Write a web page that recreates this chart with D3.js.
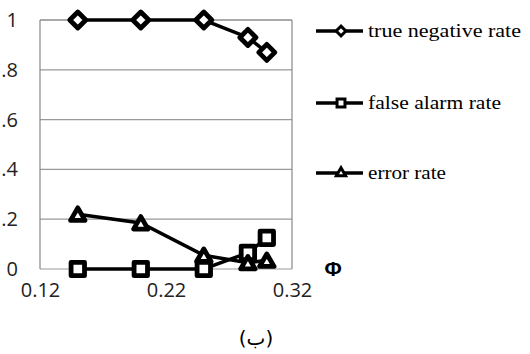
<!DOCTYPE html>
<html lang="en">
<head>
<meta charset="UTF-8">
<title>rates vs phi</title>
<script src="https://d3js.org/d3.v7.min.js"></script>
<style>
    body { margin: 0; background: #fff; }
    .tick text { font-family: "Open Sans", sans-serif; fill: #222; }
    .legend text { font-family: "Liberation Serif", serif; font-size: 19px; fill: #000; }
</style>
</head>
<body>
<svg id="canvas" width="530" height="354"></svg>
<script>
    // data
    let phi = [0.15, 0.20, 0.25, 0.285, 0.30];
    let trueNegative = [1, 1, 1, 0.93, 0.87];
    let falseAlarm = [0, 0, 0, 0.065, 0.125];
    let errorRate = [0.22, 0.185, 0.055, 0.025, 0.035];
    let seriesNames = ["true negative rate", "false alarm rate", "error rate"];
    let xTicks = [0.12, 0.22, 0.32];
    let yTicks = [0, 0.2, 0.4, 0.6, 0.8, 1];
    let yTickLabels = ["0", ".2", ".4", ".6", ".8", "1"];

    let svg = d3.select('svg');
    let x = d3.scaleLinear().domain([0.12, 0.32]).range([40, 292]);
    let y = d3.scaleLinear().domain([0, 1]).range([269, 20]);

    // grid
    svg.append('g').selectAll('line')
        .data(yTicks)
        .enter().append('line')
        .attr('x1', x(0.12)).attr('x2', x(0.32))
        .attr('y1', d => y(d)).attr('y2', d => y(d))
        .attr('stroke', d => d === 1 ? '#555' : '#999')
        .attr('stroke-width', 1.2);
    svg.append('line')
        .attr('x1', x(0.12)).attr('x2', x(0.12)).attr('y1', y(1)).attr('y2', y(0))
        .attr('stroke', '#888').attr('stroke-width', 1.2);
    svg.append('line')
        .attr('x1', x(0.32)).attr('x2', x(0.32)).attr('y1', y(1)).attr('y2', y(0))
        .attr('stroke', '#888').attr('stroke-width', 1.2);

    // axes
    let xAxis = svg.append('g')
        .attr('transform', 'translate(0,' + y(0) + ')')
        .call(d3.axisBottom(x).tickValues(xTicks).tickFormat(d3.format('.2f')).tickSize(0).tickPadding(14));
    xAxis.select('.domain').remove();
    xAxis.selectAll('text').style('font-size', '20px');

    let yAxis = svg.append('g')
        .attr('transform', 'translate(' + x(0.12) + ',0)')
        .call(d3.axisLeft(y).tickValues(yTicks).tickFormat((d, i) => yTickLabels[i]).tickSize(0).tickPadding(22));
    yAxis.select('.domain').remove();
    yAxis.selectAll('text').style('font-size', '20px');

    let series = [trueNegative, falseAlarm, errorRate];
    let symbols = [d3.symbolDiamond2, d3.symbolSquare2, d3.symbolTriangle2];
    let sizes = [165, 230, 150];

    let line = d3.line()
        .x((d, i) => x(phi[i]))
        .y(d => y(d));

    series.forEach(function (s, k) {
        svg.append('path')
            .datum(s)
            .attr('d', line)
            .attr('fill', 'none')
            .attr('stroke', '#000')
            .attr('stroke-width', 3.5);
    });
    series.forEach(function (s, k) {
        svg.append('g').selectAll('path')
            .data(s)
            .enter().append('path')
            .attr('transform', (d, i) => 'translate(' + x(phi[i]) + ',' + (y(d) + (k === 2 ? 2 : 0)) + ')')
            .attr('d', d3.symbol().type(symbols[k]).size(sizes[k]))
            .attr('fill', '#fff')
            .attr('stroke', '#000')
            .attr('stroke-width', 4.8)
            .attr('stroke-linejoin', 'round');
    });

    // legend
    let legendY = [31, 103, 173];
    let legendWidths = [153, 133, 78];
    let legend = svg.append('g').attr('class', 'legend');
    seriesNames.forEach(function (name, k) {
        let ly = legendY[k];
        legend.append('line')
            .attr('x1', 316).attr('x2', 363).attr('y1', ly).attr('y2', ly)
            .attr('stroke', '#000').attr('stroke-width', 3.5);
        legend.append('path')
            .attr('transform', 'translate(341,' + ly + ')')
            .attr('d', d3.symbol().type(symbols[k]).size(k === 1 ? 80 : 60))
            .attr('fill', '#fff').attr('stroke', '#000').attr('stroke-width', 3);
        legend.append('text')
            .attr('x', 368).attr('y', ly + 6)
            .attr('textLength', legendWidths[k])
            .attr('lengthAdjust', 'spacingAndGlyphs')
            .text(name);
    });

    svg.append('text')
        .attr('x', 333).attr('y', 276)
        .attr('text-anchor', 'middle')
        .style('font-family', '"Liberation Sans", sans-serif')
        .style('font-size', '21px')
        .style('font-weight', 'bold')
        .text('Φ');

    svg.append('text')
        .attr('x', 256).attr('y', 345)
        .attr('text-anchor', 'middle')
        .style('font-family', '"DejaVu Sans", sans-serif')
        .style('font-size', '20px')
        .text('(ب)');
</script>
</body>
</html>
